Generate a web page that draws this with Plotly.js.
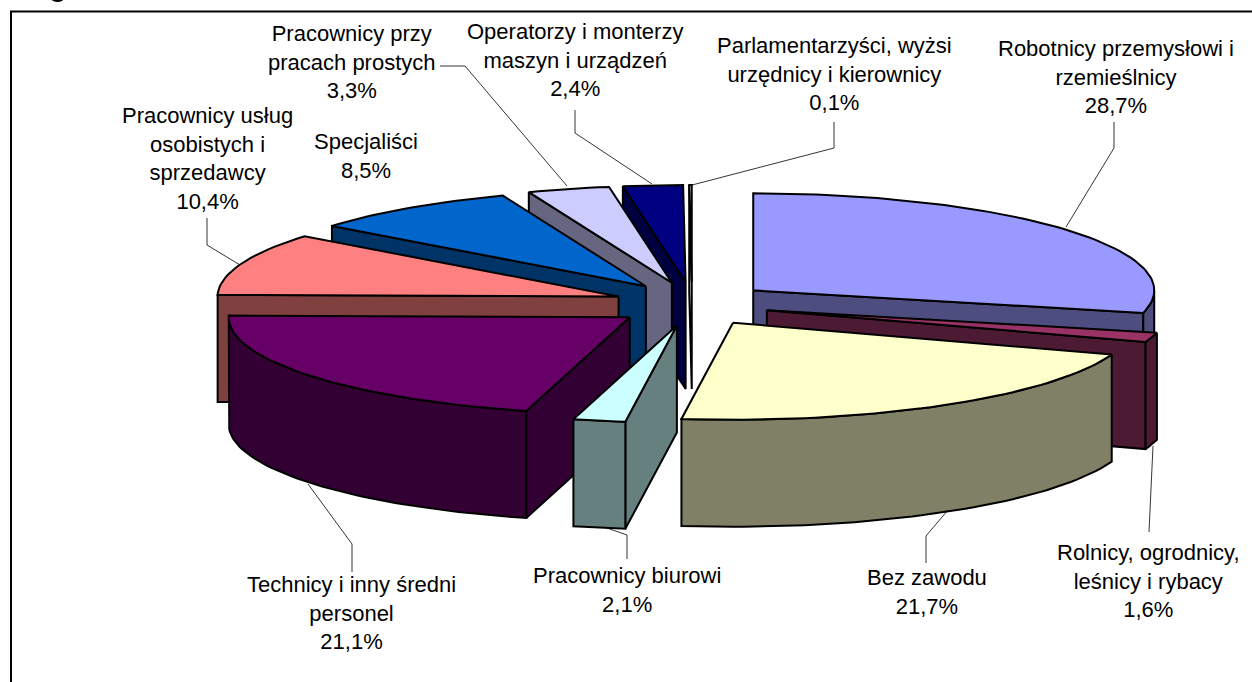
<!DOCTYPE html>
<html><head><meta charset="utf-8">
<script src="https://cdn.plot.ly/plotly-3.0.1.min.js"></script>
<style>html,body{margin:0;padding:0;background:#fff}#c{width:1252px;height:682px}</style></head>
<body><div id="c"></div>
<script>
const categories=["Robotnicy przemysłowi i<br>rzemieślnicy","Rolnicy, ogrodnicy,<br>leśnicy i rybacy","Bez zawodu","Pracownicy biurowi","Technicy i inny średni<br>personel","Pracownicy usług<br>osobistych i<br>sprzedawcy","Specjaliści","Pracownicy przy<br>pracach prostych","Operatorzy i monterzy<br>maszyn i urządzeń","Parlamentarzyści, wyżsi<br>urzędnicy i kierownicy"];
const values=[28.7,1.6,21.7,2.1,21.1,10.4,8.5,3.3,2.4,0.1];
const valueLabels=["28,7%","1,6%","21,7%","2,1%","21,1%","10,4%","8,5%","3,3%","2,4%","0,1%"];
const topColors=["#9999FF","#993366","#FFFFCC","#CCFFFF","#660066","#FF8080","#0066CC","#CCCCFF","#000080","#FFFFFF"];
const wallColors=["#4D4D80","#4D1A33","#808066","#668080","#330033","#804040","#003366","#666680","#000040","#FFFFFF"];
const drawOrder=[9,8,7,6,5,4,3,0,1,2];
const labelPos=[[1116,77],[1148,581],[927,592],[627,590],[351,613],[207,158],[366,156],[352,62],[575,60],[834,74]];
const leaders=[[[1114,122],[1114,148],[1066,227]],[[1153,446],[1149,532]],[[948,510],[926,536],[926,563]],[[604,527],[627,535],[627,559]],[[308,484],[352,544],[352,572]],[[207,218],[207,245],[240,265]],[],[[440,66],[465,66],[567,186]],[[575,110],[575,133],[652,184]],[[834,122],[834,148],[692,185]]];

const CX=692,CY=304,RX=401,RY=97,EX=78,EY=22,DEPTH=107;
const total=values.reduce((a,b)=>a+b,0);
const traces=[];
const poly=(xs,ys,fill)=>traces.push({type:'scatter',mode:'lines',x:[...xs,xs[0]],y:[...ys,ys[0]],fill:'toself',fillcolor:fill,line:{color:'#000',width:2},hoverinfo:'skip',showlegend:false});
const rad=d=>d*Math.PI/180;
let cum=0;const ranges=values.map(v=>{const a=cum/total*360;cum+=v;return [a,cum/total*360];});
function arc(a0,a1){const n=Math.max(2,Math.ceil((a1-a0)/1.5));const p=[];for(let i=0;i<=n;i++)p.push(a0+(a1-a0)*i/n);return p;}
drawOrder.forEach(i=>{
  const [a0,a1]=ranges[i],m=(a0+a1)/2;
  const ax=CX+EX*Math.sin(rad(m)),ay=CY-EY*Math.cos(rad(m));
  const ex=t=>ax+RX*Math.sin(rad(t)),ey=t=>ay-RY*Math.cos(rad(t));
  if(Math.sin(rad(a0))<0) poly([ax,ex(a0),ex(a0),ax],[ay,ey(a0),ey(a0)+DEPTH,ay+DEPTH],wallColors[i]);
  if(Math.sin(rad(a1))>0) poly([ax,ex(a1),ex(a1),ax],[ay,ey(a1),ey(a1)+DEPTH,ay+DEPTH],wallColors[i]);
  const f0=Math.max(a0,90),f1=Math.min(a1,270);
  if(f1>f0){const t=arc(f0,f1);poly([...t.map(ex),...t.slice().reverse().map(ex)],[...t.map(ey),...t.slice().reverse().map(d=>ey(d)+DEPTH)],wallColors[i]);}
  const t=arc(a0,a1);poly([ax,...t.map(ex)],[ay,...t.map(ey)],topColors[i]);
});
leaders.forEach(l=>{if(l.length)traces.push({type:'scatter',mode:'lines',x:l.map(p=>p[0]),y:l.map(p=>p[1]),line:{color:'#000',width:0.8},hoverinfo:'skip',showlegend:false});});
const annotations=categories.map((c,i)=>({x:labelPos[i][0],y:labelPos[i][1],xref:'x',yref:'y',text:c+'<br>'+valueLabels[i],showarrow:false,xanchor:'center',yanchor:'middle',align:'center',font:{family:'Liberation Sans, Arial, sans-serif',size:22,color:'#000'}}));
Plotly.newPlot('c',traces,{width:1252,height:682,margin:{l:0,r:0,t:0,b:0},paper_bgcolor:'#fff',plot_bgcolor:'#fff',showlegend:false,
 xaxis:{range:[0,1252],visible:false,fixedrange:true},yaxis:{range:[682,0],visible:false,fixedrange:true},
 shapes:[
  {type:'line',xref:'x',yref:'y',x0:10,y0:11.5,x1:1252,y1:11.5,line:{color:'#000',width:2},layer:'below'},
  {type:'line',xref:'x',yref:'y',x0:11,y0:11,x1:11,y1:682,line:{color:'#000',width:2},layer:'below'},
  {type:'circle',xref:'x',yref:'y',x0:51,y0:-6,x1:64,y1:2,fillcolor:'#000',line:{width:0},layer:'below'}
 ],
 annotations},{displayModeBar:false,staticPlot:true});
</script></body></html>
